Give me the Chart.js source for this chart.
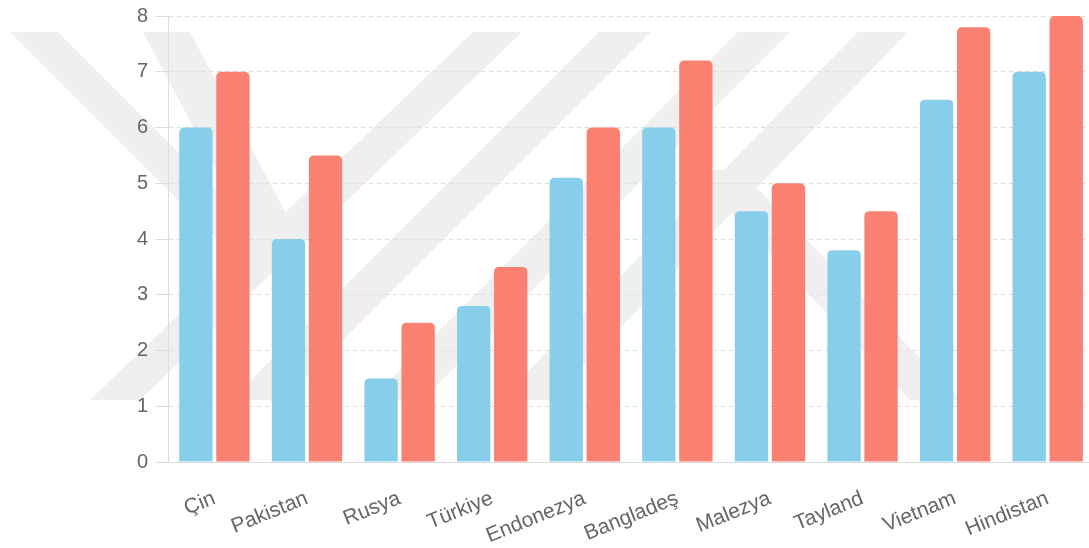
<!DOCTYPE html>
<html>
<head>
<meta charset="utf-8">
<title>Ülkeler</title>
<script src="https://cdn.jsdelivr.net/npm/chart.js@4.4.1/dist/chart.umd.min.js"></script>
<style>
  html, body { margin: 0; padding: 0; background: #fff; overflow: hidden; }
  #wrap { width: 1096px; height: 548px; }
</style>
</head>
<body>
<div id="wrap"><canvas id="barChart"></canvas></div>
<script>
const countries = ["Çin", "Pakistan", "Rusya", "Türkiye", "Endonezya", "Bangladeş", "Malezya", "Tayland", "Vietnam", "Hindistan"];
const blueValues = [6, 4, 1.5, 2.8, 5.1, 6, 4.5, 3.8, 6.5, 7];
const redValues = [7, 5.5, 2.5, 3.5, 6, 7.2, 5, 4.5, 7.8, 8];
const yTicks = [0, 1, 2, 3, 4, 5, 6, 7, 8];

// faint emblem bands painted behind the grid
const emblemBands = [
  [[10, 32], [58, 32], [296, 270], [248, 270]],
  [[143, 32], [190, 32], [300, 240], [253, 240]],
  [[90, 400], [140, 400], [522, 32], [473, 32]],
  [[231, 400], [283, 400], [651, 32], [599, 32]],
  [[370, 400], [422, 400], [790, 32], [738, 32]],
  [[500, 400], [550, 400], [908, 32], [858, 32]],
  [[690, 170], [740, 170], [960, 400], [910, 400]]
];

const emblem = {
  id: "emblem",
  beforeDraw(chart) {
    const ctx = chart.ctx;
    ctx.save();
    ctx.fillStyle = "#efefef";
    emblemBands.forEach(band => {
      ctx.beginPath();
      band.forEach(([x, y], i) => i ? ctx.lineTo(x, y) : ctx.moveTo(x, y));
      ctx.closePath();
      ctx.fill();
    });
    ctx.restore();
  }
};

const ctx = document.getElementById("barChart").getContext("2d");
new Chart(ctx, {
  type: "bar",
  data: {
    labels: countries,
    datasets: [
      {
        data: blueValues,
        backgroundColor: "#87ceeb",
        borderRadius: 5,
        borderSkipped: "bottom",
        categoryPercentage: 0.8,
        barPercentage: 0.9
      },
      {
        data: redValues,
        backgroundColor: "#fa8072",
        borderRadius: 5,
        borderSkipped: "bottom",
        categoryPercentage: 0.8,
        barPercentage: 0.9
      }
    ]
  },
  plugins: [emblem],
  options: {
    responsive: true,
    maintainAspectRatio: false,
    animation: false,
    layout: { padding: { left: 130, top: 0, right: 2, bottom: 0 } },
    plugins: {
      legend: { display: false },
      tooltip: { enabled: false }
    },
    scales: {
      x: {
        grid: { display: false },
        border: { display: true, color: "#dddddd", width: 1 },
        ticks: {
          color: "#666",
          font: { family: "'Liberation Sans', Arial, sans-serif", size: 21 },
          minRotation: 22,
          maxRotation: 22,
          padding: 16,
          autoSkip: false
        },
        afterFit(scale) {
          scale.height = 86;
        }
      },
      y: {
        min: yTicks[0],
        max: yTicks[yTicks.length - 1],
        afterBuildTicks(scale) {
          scale.ticks = yTicks.map(v => ({ value: v }));
        },
        grid: {
          color: "#dcdcdc",
          tickLength: 13,
          tickColor: "#dcdcdc",
          tickBorderDash: []
        },
        border: { display: true, color: "#dddddd", dash: [4, 4] },
        ticks: {
          color: "#666",
          font: { family: "'Liberation Sans', Arial, sans-serif", size: 20, lineHeight: 0.9 },
          padding: 7
        }
      }
    }
  }
});
</script>
</body>
</html>
